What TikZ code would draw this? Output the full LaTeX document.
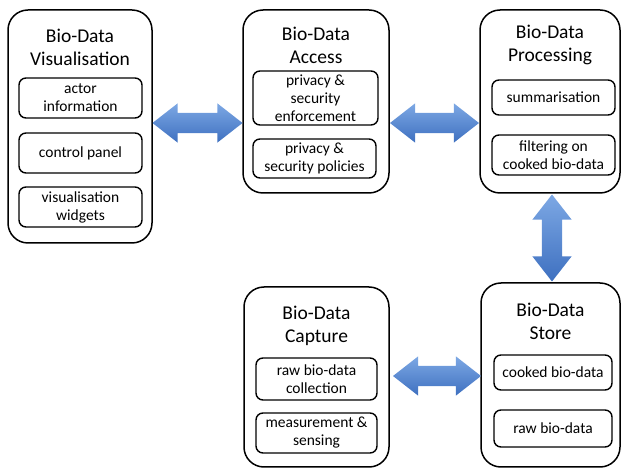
\documentclass[tikz,border=0pt]{standalone}
\usepackage{fontspec}
\setmainfont{Carlito}
\usepackage{tikz}
\usepackage{xcolor}
\usetikzlibrary{calc,positioning,shapes,shapes.arrows}

\definecolor{arrowtop}{RGB}{125,168,228}
\definecolor{arrowbot}{RGB}{62,112,192}

\tikzset{
	stage/.style={draw, line width=1.5pt, rounded corners=20pt, inner sep=0pt},
	task/.style={draw, line width=1.4pt, rounded corners=7pt, align=center, inner sep=0pt,
		font=\fontsize{15.5}{18}\selectfont},
	stagetitle/.style={align=center, font=\fontsize{19.5}{23}\selectfont},
	biarrow/.style={double arrow, draw=none, inner xsep=0pt, inner ysep=10pt,
		double arrow head extend=9.5pt, double arrow tip angle=76,
		top color=arrowtop, bottom color=arrowbot}
}

\begin{document}
\begin{tikzpicture}[x=1pt, y=-1pt]
			\useasboundingbox (0,0) rectangle (622,470);

			% outer stages
			\node[stage, minimum width=144pt, minimum height=233pt] (vis) at(80,126.5){};
			\node[stage, minimum width=146pt, minimum height=183pt] (acc) at(316,101.5){};
			\node[stage, minimum width=140pt, minimum height=183pt] (proc) at(550,101.5){};
			\node[stage, minimum width=139pt, minimum height=184pt] (store) at(550.5,375){};
			\node[stage, minimum width=145pt, minimum height=180pt] (cap) at(316.5,377){};

			\node[stagetitle] (vist) at(80,47.5){Bio-Data\\Visualisation};
			\node[stagetitle] (acct) at(316,45){Bio-Data\\Access};
			\node[stagetitle] (proct) at(550,45){Bio-Data\\Processing};
			\node[stagetitle] (storet) at(550.5,321.5){Bio-Data\\Store};
			\node[stagetitle] (capt) at(316.5,326){Bio-Data\\Capture};

			% tasks
				\node[task, minimum width=123pt, minimum height=40pt] (actor) at(80.5,98){actor\\information};
				\node[task, minimum width=123pt, minimum height=40pt] (panel) at(80.5,153){control panel};
				\node[task, minimum width=123pt, minimum height=40pt] (widgets) at(80.5,207){visualisation\\widgets};

				\node[task, minimum width=125pt, minimum height=54pt] (enforce) at(315.5,98){privacy \&\\security\\enforcement};
				\node[task, minimum width=123pt, minimum height=39pt] (policies) at(314.5,158.5){privacy \&\\security policies};

				\node[task, minimum width=123pt, minimum height=35pt] (summ) at(553.5,97.5){summarisation};
				\node[task, minimum width=123pt, minimum height=40pt] (filter) at(553.5,155){filtering on\\cooked bio-data};

				\node[task, minimum width=118pt, minimum height=35pt] (cooked) at(553,372.5){cooked bio-data};
				\node[task, minimum width=118pt, minimum height=37pt] (raw) at(553,428.5){raw bio-data};

				\node[task, minimum width=121pt, minimum height=42pt] (collect) at(316.5,379){raw bio-data\\collection};
				\node[task, minimum width=121pt, minimum height=40pt] (sense) at(316.5,433){measurement \&\\sensing};

			% links
			\node[biarrow, minimum height=90pt] (visacc) at($(vis.east |- 0,123)!.5!(acc.west |- 0,123)$){};
			\node[biarrow, minimum height=89pt] (accproc) at($(acc.east |- 0,123)!.5!(proc.west |- 0,123)$){};
			\node[biarrow, minimum height=87pt, rotate=90] (procstore) at($(proc.south -| 552,0)!.5!(store.north -| 552,0)$){};
			\node[biarrow, minimum height=88pt, xshift=2pt] (capstore) at($(cap.east |- 0,376)!.5!(store.west |- 0,376)$){};

		\end{tikzpicture}
\end{document}
